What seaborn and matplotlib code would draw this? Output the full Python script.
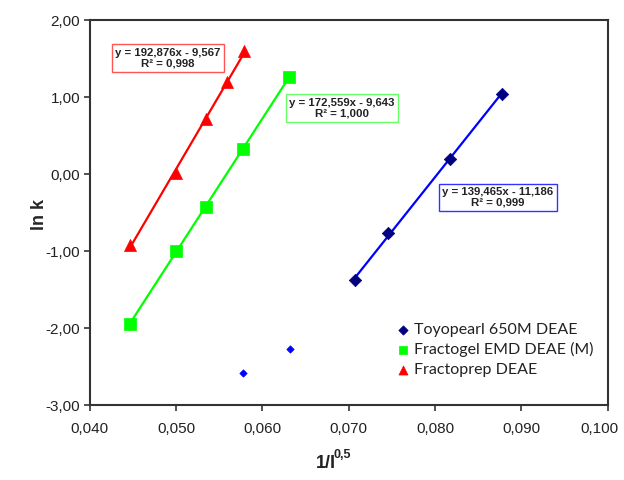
import matplotlib

matplotlib.use("Agg")
import matplotlib.pyplot as plt
import matplotlib.transforms as mtransforms
import seaborn as sns
from matplotlib.ticker import FuncFormatter

# 數據：1/I^0.5 與 ln k
toyo_x = [0.0707, 0.0745, 0.0817, 0.0877]
toyo_y = [-1.38, -0.77, 0.20, 1.04]
toyo_extra_x = [0.0577, 0.0632]
toyo_extra_y = [-2.58, -2.27]
fractogel_x = [0.0446, 0.0500, 0.0534, 0.0577, 0.0631]
fractogel_y = [-1.95, -1.00, -0.43, 0.33, 1.26]
fractoprep_x = [0.0446, 0.0500, 0.0535, 0.0559, 0.0578]
fractoprep_y = [-0.92, 0.01, 0.71, 1.20, 1.60]

series_names = ["Toyopearl 650M DEAE", "Fractogel EMD DEAE (M)", "Fractoprep DEAE"]
fit_labels = [
    "y = 139,465x - 11,186\nR² = 0,999",
    "y = 172,559x - 9,643\nR² = 1,000",
    "y = 192,876x - 9,567\nR² = 0,998",
]
label_pos = [(0.08727, -0.30), (0.06923, 0.86), (0.04905, 1.51)]

x_ticks = [0.040, 0.050, 0.060, 0.070, 0.080, 0.090, 0.100]
y_ticks = [-3, -2, -1, 0, 1, 2]

sns.set_theme(style="white")
plt.rcParams["font.family"] = ["Liberation Sans", "DejaVu Sans"]

fig = plt.figure(figsize=(6.24, 4.8), dpi=100)
ax = fig.add_axes([0.144, 0.156, 0.830, 0.802])

styles = [
    dict(x=toyo_x, y=toyo_y, marker="D", mc="#000080", lc="#0000ff", s=40, box="#3333ff"),
    dict(x=fractogel_x, y=fractogel_y, marker="s", mc="#00ff00", lc="#00ff00", s=70, box="#66ff66"),
    dict(x=fractoprep_x, y=fractoprep_y, marker="^", mc="#ff0000", lc="#ff0000", s=75, box="#ff5555"),
]

for name, st, txt, pos in zip(series_names, styles, fit_labels, label_pos):
    # 趨勢線
    sns.regplot(x=st["x"], y=st["y"], ax=ax, scatter=False, ci=None, truncate=True,
                line_kws=dict(color=st["lc"], lw=1.6))
    sns.scatterplot(x=st["x"], y=st["y"], ax=ax, marker=st["marker"], color=st["mc"],
                    s=st["s"], edgecolor=st["mc"], linewidth=0.5, label=name, zorder=3)
    ax.text(pos[0], pos[1], txt, ha="center", va="center", fontsize=8.2,
            fontweight="bold", color="#222222", linespacing=1.05,
            bbox=dict(boxstyle="square,pad=0.3", fc="white", ec=st["box"], lw=1.0))

# 兩個未納入回歸的點
sns.scatterplot(x=toyo_extra_x, y=toyo_extra_y, ax=ax, marker="D", color="#0000ff",
                s=14, edgecolor="#0000ff", linewidth=0.5, legend=False)

ax.set_xlim(0.040, 0.100)
ax.set_ylim(-3, 2)
ax.set_xticks(x_ticks)
ax.set_yticks(y_ticks)
ax.xaxis.set_major_formatter(FuncFormatter(lambda v, p: f"{v:.3f}".replace(".", ",")))
ax.yaxis.set_major_formatter(FuncFormatter(lambda v, p: f"{v:.2f}".replace(".", ",")))
ax.tick_params(axis="both", direction="out", length=4, width=1.2, colors="#333333",
               labelsize=11, labelcolor="#222222", bottom=True, left=True, pad=3)
ax.tick_params(axis="x", pad=8)
for sp in ax.spines.values():
    sp.set_color("#333333")
    sp.set_linewidth(1.5)

# 最右邊的刻度標籤往左挪一點，避免被裁掉
last = ax.get_xticklabels()[-1]
last.set_transform(last.get_transform() + mtransforms.ScaledTranslation(-6 / 72, 0, fig.dpi_scale_trans))

ax.set_xlabel("")
ax.set_ylabel("ln k", fontsize=13, fontweight="bold")
ax.yaxis.set_label_coords(-0.081, 0.494)

# x 軸標題（上標另外寫）
fig.text(0.507, 0.025, "1/I", fontsize=13, fontweight="bold", color="#222222")
fig.text(0.535, 0.046, "0,5", fontsize=9, fontweight="bold", color="#222222")

leg = ax.legend(loc="upper left", bbox_to_anchor=(0.57, 0.235), frameon=False,
                prop=dict(family="Lato", size=11.5), handletextpad=0.1,
                labelspacing=0.35, borderpad=0, handlelength=1.2, markerscale=0.75)
for t in leg.get_texts():
    t.set_color("#222222")

plt.savefig("out.png", dpi=100)
plt.close()
